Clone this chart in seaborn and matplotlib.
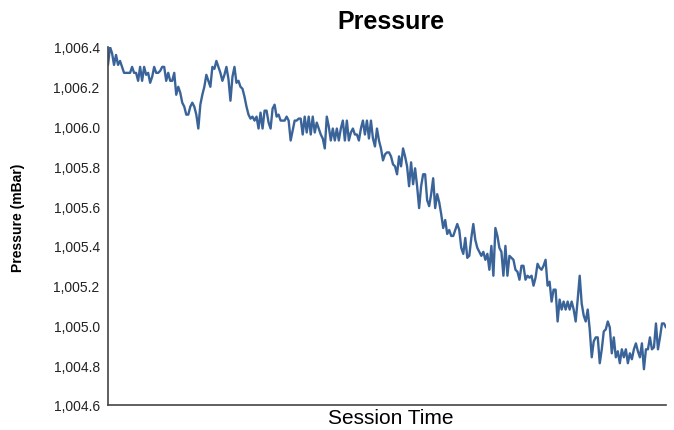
import numpy as np
import pandas as pd
import matplotlib
matplotlib.use("Agg")
import matplotlib.pyplot as plt
from matplotlib.ticker import FuncFormatter
import seaborn as sns

# pressure readings (mBar) in order of session time
part_a = [1006.31, 1006.40, 1006.37, 1006.31, 1006.36, 1006.31, 1006.33, 1006.30, 1006.27, 1006.27,
          1006.27, 1006.27, 1006.30, 1006.27, 1006.27, 1006.23, 1006.30, 1006.23, 1006.30, 1006.26,
          1006.27, 1006.22, 1006.25, 1006.30, 1006.27, 1006.27, 1006.28, 1006.30, 1006.30, 1006.23,
          1006.27, 1006.23, 1006.23, 1006.27, 1006.16, 1006.20, 1006.17, 1006.12, 1006.10, 1006.06,
          1006.06, 1006.10, 1006.12, 1006.10, 1006.06, 1005.99]
part_b = [1006.11, 1006.16, 1006.20, 1006.26, 1006.23, 1006.20, 1006.30, 1006.29, 1006.33, 1006.30,
          1006.27, 1006.23, 1006.26, 1006.30, 1006.24, 1006.13, 1006.25, 1006.30, 1006.22, 1006.23,
          1006.20, 1006.19, 1006.15, 1006.10, 1006.06, 1006.04, 1006.05, 1006.03, 1006.05, 1005.99,
          1006.07, 1005.99, 1006.08, 1006.08, 1006.02, 1005.99, 1006.09, 1006.11, 1006.05, 1006.06,
          1006.03, 1006.03, 1006.03, 1006.05, 1006.03, 1005.93]
part_c = [1005.98, 1006.03, 1006.03, 1006.04, 1006.04, 1005.96, 1006.05, 1005.97, 1006.05, 1005.96,
          1006.05, 1005.97, 1006.02, 1005.99, 1005.96, 1005.94, 1005.89, 1006.05, 1006.00, 1005.93,
          1005.99, 1005.93, 1005.99, 1005.93, 1005.99, 1006.03, 1005.93, 1006.03, 1005.93, 1005.97,
          1005.99, 1005.96, 1005.96, 1005.93, 1005.99, 1006.03, 1005.96, 1006.03, 1005.94, 1006.03,
          1005.94, 1005.90, 1005.99, 1005.93, 1005.89, 1005.83, 1005.86]
part_d = [1005.87, 1005.87, 1005.85, 1005.81, 1005.80, 1005.76, 1005.85, 1005.80, 1005.89, 1005.85,
          1005.80, 1005.70, 1005.82, 1005.71, 1005.79, 1005.70, 1005.59, 1005.70, 1005.76, 1005.76,
          1005.63, 1005.60, 1005.66, 1005.74, 1005.59, 1005.66, 1005.62, 1005.56, 1005.49, 1005.53,
          1005.46, 1005.48, 1005.45, 1005.45, 1005.48, 1005.51, 1005.48, 1005.39, 1005.36, 1005.44,
          1005.34, 1005.35, 1005.44, 1005.51, 1005.43, 1005.39, 1005.37]
part_e = [1005.35, 1005.37, 1005.33, 1005.36, 1005.28, 1005.40, 1005.25, 1005.49, 1005.45, 1005.39,
          1005.37, 1005.25, 1005.40, 1005.25, 1005.35, 1005.34, 1005.33, 1005.28, 1005.27, 1005.23,
          1005.30, 1005.30, 1005.23, 1005.25, 1005.24, 1005.25, 1005.20, 1005.24, 1005.31, 1005.29,
          1005.28, 1005.30, 1005.33, 1005.20, 1005.22, 1005.12, 1005.18, 1005.18, 1005.02, 1005.13,
          1005.08, 1005.12, 1005.08, 1005.12, 1005.08, 1005.12]
part_f = [1005.08, 1005.02, 1005.13, 1005.25, 1005.11, 1005.05, 1005.02, 1005.08, 1004.98, 1004.84,
          1004.92, 1004.94, 1004.94, 1004.81, 1004.88, 1004.97, 1004.98, 1005.02, 1004.99, 1004.86,
          1004.94, 1004.84, 1004.87, 1004.81, 1004.88, 1004.84, 1004.88, 1004.81, 1004.86, 1004.83,
          1004.88, 1004.91, 1004.87, 1004.84, 1004.91, 1004.78, 1004.88, 1004.88, 1004.94, 1004.88,
          1004.89, 1005.01, 1004.88, 1004.94, 1005.01, 1005.01, 1004.99]

pressure = part_a + part_b + part_c + part_d + part_e + part_f
df = pd.DataFrame({"t": np.arange(len(pressure)), "pressure": pressure})

sns.set_style("white")
plt.rcParams["font.family"] = ["Liberation Sans", "DejaVu Sans"]

fig = plt.figure(figsize=(6.74, 4.31), dpi=100)
ax = fig.add_axes([108 / 674, 1 - 406 / 431, 558 / 674, 358 / 431])

sns.lineplot(data=df, x="t", y="pressure", ax=ax, color="#3a6499", linewidth=1.7)

ax.set_xlim(0, len(pressure) - 1)
ax.set_ylim(1004.6, 1006.4)
ax.set_yticks(np.arange(1004.6, 1006.41, 0.2))
ax.yaxis.set_major_formatter(FuncFormatter(lambda v, p: f"{v:,.1f}"))
ax.set_xticks([])
ax.tick_params(axis="y", length=0, pad=6, labelsize=10, colors="#222222")
ax.set_xlabel("")
ax.set_ylabel("")
for s in ["top", "right"]:
    ax.spines[s].set_visible(False)
for s in ["left", "bottom"]:
    ax.spines[s].set_color("#444444")
    ax.spines[s].set_linewidth(1.2)

fig.text(391 / 674, 1 - 22 / 431, "Pressure", ha="center", va="center",
         fontsize=18, fontweight="bold", color="black")
fig.text(391 / 674, 1 - 419 / 431, "Session Time", ha="center", va="center",
         fontsize=15, color="black")
fig.text(18 / 674, 1 - 218 / 431, "Pressure (mBar)", ha="center", va="center",
         rotation=90, fontsize=10, fontweight="bold", color="black")

fig.savefig("out.png", dpi=100)
